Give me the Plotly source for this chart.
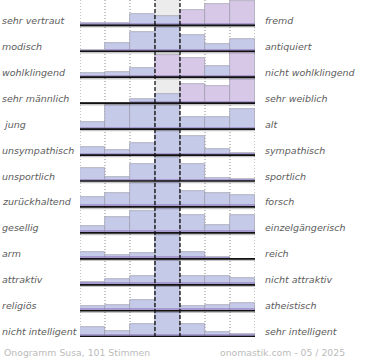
import plotly.graph_objects as go

left_labels = ["sehr vertraut", "modisch", "wohlklingend", "sehr männlich", " jung",
               "unsympathisch", "unsportlich", "zurückhaltend", "gesellig", "arm",
               "attraktiv", "religiös", "nicht intelligent"]
right_labels = ["fremd", "antiquiert", "nicht wohlklingend", "sehr weiblich", "alt",
                "sympathisch", "sportlich", "forsch", "einzelgängerisch", "reich",
                "nicht attraktiv", "atheistisch", "sehr intelligent"]
# relative bar heights per row (100 = full row height), 7 steps left -> right
v_vertraut = [11, 11, 44, 37, 63, 84, 97]
v_modisch = [7, 35, 76, 99, 64, 28, 51]
v_wohlklingend = [15, 21, 37, 87, 77, 44, 100]
v_maennlich = [0, 0, 17, 37, 75, 68, 95]
v_jung = [27, 96, 100, 96, 48, 48, 80]
v_unsympathisch = [33, 21, 47, 97, 77, 25, 7]
v_unsportlich = [53, 17, 67, 98, 70, 13, 7]
v_zurueckhaltend = [40, 56, 96, 99, 63, 56, 49]
v_gesellig = [27, 64, 87, 100, 71, 33, 71]
v_arm = [29, 16, 24, 100, 28, 7, 1]
v_attraktiv = [11, 23, 36, 100, 36, 36, 29]
v_religioes = [20, 25, 43, 100, 20, 25, 32]
v_intelligent = [40, 24, 49, 100, 51, 17, 11]
rows = [v_vertraut, v_modisch, v_wohlklingend, v_maennlich, v_jung, v_unsympathisch,
        v_unsportlich, v_zurueckhaltend, v_gesellig, v_arm, v_attraktiv, v_religioes,
        v_intelligent]
footer_left = "Onogramm Susa, 101 Stimmen"
footer_right = "onomastik.com - 05 / 2025"

# style: bars shown with pinkish tint
pink = {(0, 4), (0, 5), (0, 6), (2, 3), (2, 4), (2, 6), (3, 4), (3, 5), (3, 6)}

ROW = 104
BLUE = "#c5cae9"
PINK = "#d8c8e7"
BAND = "rgba(140,115,185,0.55)"

fig = go.Figure()
xs = [i + 0.5 for i in range(7)]
for r, vals in enumerate(rows):
    base = -r * ROW
    colors = [PINK if (r, i) in pink else BLUE for i in range(7)]
    fig.add_trace(go.Bar(x=xs, y=vals, base=[base] * 7, width=1,
                         marker=dict(color=colors, line=dict(color="#9c9cab", width=0.7)),
                         showlegend=False, hoverinfo="skip"))
    fig.add_trace(go.Bar(x=xs, y=[min(v, 10) for v in vals], base=[base] * 7, width=1,
                         marker=dict(color=BAND, line=dict(width=0)),
                         showlegend=False, hoverinfo="skip"))

shapes = []
shapes.append(dict(type="rect", xref="x", yref="paper", x0=3, x1=4, y0=0, y1=1,
                   fillcolor="#ececec", line=dict(width=0), layer="below"))
for gx in [0, 1, 2, 5, 6, 7]:
    shapes.append(dict(type="line", xref="x", yref="paper", x0=gx, x1=gx, y0=0, y1=1,
                       line=dict(color="#8a8a8a", width=1, dash="1px,2px"), layer="below"))
for gx in [3, 4]:
    shapes.append(dict(type="line", xref="x", yref="paper", x0=gx, x1=gx, y0=0, y1=1,
                       line=dict(color="#000", width=1.2, dash="4px,2px"), layer="above"))
for r in range(len(rows)):
    b = -r * ROW
    shapes.append(dict(type="line", xref="x", yref="y", x0=0, x1=7, y0=b - 6, y1=b - 6,
                       line=dict(color="rgba(0,0,0,0.22)", width=1.5), layer="above"))
    shapes.append(dict(type="line", xref="x", yref="y", x0=0, x1=7, y0=b, y1=b,
                       line=dict(color="#111", width=1.7), layer="above"))

ann = []
lab_font = dict(family="DejaVu Sans", size=9.5, color="#5c5c5c")
for r in range(len(rows)):
    b = -r * ROW
    ann.append(dict(xref="paper", yref="y", x=-80 / 175, y=b + 20, xanchor="left",
                    yanchor="middle", showarrow=False, font=lab_font,
                    text="<i>" + left_labels[r].replace(" ", "\u00a0") + "</i>"))
    ann.append(dict(xref="paper", yref="y", x=(263 - 80) / 175, y=b + 20, xanchor="left",
                    yanchor="middle", showarrow=False, font=lab_font,
                    text="<i>" + right_labels[r] + "</i>"))
foot_font = dict(family="DejaVu Sans", size=9.3, color="#bbbbbb")
ann.append(dict(xref="paper", yref="paper", x=-78 / 175, y=(337 - 352) / 337,
                xanchor="left", yanchor="middle", showarrow=False, font=foot_font,
                text=footer_left))
ann.append(dict(xref="paper", yref="paper", x=(347 - 80) / 175, y=(337 - 352) / 337,
                xanchor="right", yanchor="middle", showarrow=False, font=foot_font,
                text=footer_right))

fig.update_layout(
    width=370, height=360,
    margin=dict(l=80, r=115, t=0, b=23, pad=0),
    paper_bgcolor="white", plot_bgcolor="rgba(0,0,0,0)",
    barmode="overlay", bargap=0,
    xaxis=dict(range=[0, 7], visible=False, fixedrange=True),
    yaxis=dict(range=[-1249.2, 101.4], visible=False, fixedrange=True),
    shapes=shapes, annotations=ann,
)

fig.write_html("out.html", config={"displayModeBar": False},
               post_script="document.body.style.margin='0';")
